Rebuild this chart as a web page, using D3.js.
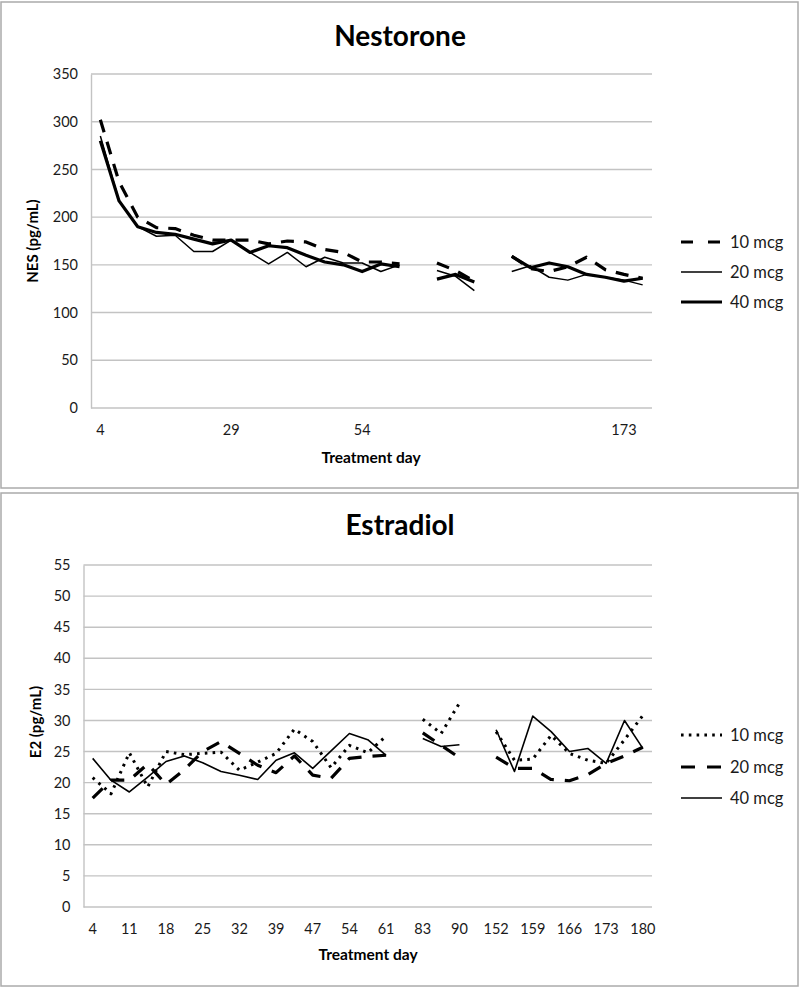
<!DOCTYPE html>
<html>
<head>
<meta charset="utf-8">
<script src="https://cdn.jsdelivr.net/npm/d3@7"></script>
<style>
  html, body { margin: 0; padding: 0; background: #fff; }
  svg { display: block; font-family: Lato, "Open Sans", sans-serif; }
</style>
</head>
<body>
<svg id="chart" width="800" height="988"></svg>
<script>
// ---------------- DATA ----------------
// Nestorone panel (blank categories create the breaks in the lines)
const nesDays = ["4","8","11","15","18","22","25","29","32","36","39","43","46","50","54","57","61","","83","86","90","","152","155","159","162","166","169","173","176"];
const nesTickLabels = ["4","29","54","173"];
const nesYTicks = [0,50,100,150,200,250,300,350];
const nes10 = [302,237,200,189,188,181,176,176,176,172,175,174,166,163,153,153,151,null,152,144,133,null,159,146,143,148,158,145,140,136];
const nes20 = [285,217,190,180,181,164,164,176,163,151,163,148,158,152,152,143,150,null,144,138,123,null,143,149,137,134,140,137,134,129];
const nes40 = [280,217,190,184,182,177,172,176,163,170,168,160,153,150,143,151,148,null,135,140,132,null,159,147,152,148,140,137,133,136];

// Estradiol panel
const e2Days = ["4","8","11","15","18","22","25","29","32","36","39","43","47","50","54","57","61","","83","86","90","","152","155","159","162","166","169","173","176","180"];
const e2TickLabels = ["4","11","18","25","32","39","47","54","61","83","90","152","159","166","173","180"];
const e2YTicks = [0,5,10,15,20,25,30,35,40,45,50,55];
const e2_10 = [20.8,18.2,24.8,19.3,25.0,24.5,24.7,24.9,22.0,23.3,24.7,28.6,26.6,22.4,26.0,24.8,27.5,null,30.2,27.9,32.8,null,28.2,23.6,23.8,27.6,24.7,23.6,23.1,26.9,30.8];
const e2_20 = [17.5,20.4,20.4,23.0,19.7,22.1,25.0,26.6,24.7,22.8,21.6,24.3,21.2,20.7,23.9,24.2,24.4,null,28.0,26.0,24.0,null,24.1,22.3,22.3,20.5,20.3,21.3,23.1,24.3,25.7];
const e2_40 = [23.9,20.4,18.5,20.9,23.4,24.3,23.2,21.8,21.2,20.5,23.6,24.8,22.3,25.1,27.9,26.9,24.4,null,27.1,25.8,26.1,null,28.5,21.8,30.7,28.2,25.0,25.5,23.1,30.0,25.5];

const nesSeries = ["10 mcg","20 mcg","40 mcg"];
const e2Series = ["10 mcg","20 mcg","40 mcg"];

// ---------------- DRAWING ----------------
const svg = d3.select("#chart");
const GRID = "#c3c3c3";
const TXT = "#1a1a1a";

function panel(cfg) {
  const g = svg.append("g");
  g.append("rect")
    .attr("x", cfg.frame[0]).attr("y", cfg.frame[1])
    .attr("width", cfg.frame[2]).attr("height", cfg.frame[3])
    .attr("fill", "#fff").attr("stroke", "#ababab").attr("stroke-width", 1.5);

  const x = d3.scaleBand().domain(d3.range(cfg.days.length)).range([cfg.left, cfg.right]);
  const y = d3.scaleLinear().domain([0, cfg.yMax]).range([cfg.bottom, cfg.top]);
  const cx = i => x(i) + x.bandwidth() / 2;

  g.append("g").selectAll("line").data(cfg.yTicks).join("line")
    .attr("x1", cfg.left).attr("x2", cfg.right)
    .attr("y1", d => y(d)).attr("y2", d => y(d))
    .attr("stroke", GRID).attr("stroke-width", 1.4);

  const ya = g.append("g").attr("transform", `translate(${cfg.left},0)`)
    .call(d3.axisLeft(y).tickValues(cfg.yTicks).tickSize(0).tickPadding(cfg.yPad));
  ya.select(".domain").attr("stroke", GRID).attr("stroke-width", 1.4);
  ya.selectAll("text").attr("font-size", 14.5).attr("fill", TXT).attr("font-family", "Lato");

  const tickIdx = d3.range(cfg.days.length).filter(i => cfg.days[i] !== "" && cfg.tickLabels.includes(cfg.days[i]) && cfg.tickFilter(i));
  const xa = g.append("g").attr("transform", `translate(0,${cfg.bottom})`)
    .call(d3.axisBottom(x).tickValues(tickIdx).tickFormat(i => cfg.days[i]).tickSize(0).tickPadding(cfg.xPad));
  xa.select(".domain").remove();
  xa.selectAll("text").attr("font-size", 14.5).attr("fill", TXT).attr("font-family", "Lato");

  g.append("text").attr("x", cfg.titleX).attr("y", cfg.titleY).attr("text-anchor", "middle")
    .attr("font-size", 28).attr("font-weight", "bold").attr("fill", "#000").text(cfg.title);
  g.append("text").attr("x", cfg.xTitleX).attr("y", cfg.xTitleY).attr("text-anchor", "middle")
    .attr("font-size", 15.5).attr("font-weight", "bold").attr("fill", "#000").text("Treatment day");
  g.append("text").attr("transform", `translate(${cfg.yTitleX},${cfg.yTitleY}) rotate(-90)`)
    .attr("text-anchor", "middle").attr("font-size", 15).attr("font-weight", "bold").attr("fill", "#000")
    .text(cfg.yTitle);

  const line = d3.line().defined(d => d.v != null).x(d => cx(d.i)).y(d => y(d.v));
  cfg.series.forEach((s, k) => {
    const pts = s.values.map((v, i) => ({ i, v }));
    g.append("path").datum(pts).attr("d", line)
      .attr("fill", "none").attr("stroke", "#000")
      .attr("stroke-width", s.style.w)
      .attr("stroke-dasharray", s.style.dash || null)
      .attr("stroke-linecap", "butt")
      .attr("stroke-linejoin", "round");
    const ly = cfg.legendY[k];
    g.append("line").attr("x1", 681).attr("x2", 722).attr("y1", ly).attr("y2", ly)
      .attr("stroke", "#000").attr("stroke-width", s.style.w)
      .attr("stroke-dasharray", s.style.legendDash || s.style.dash || null);
    g.append("text").attr("x", 730).attr("y", ly).attr("dy", "0.35em")
      .attr("font-size", 16.5).attr("fill", TXT).text(s.name);
  });
}

panel({
  frame: [1, 2, 797, 486],
  days: nesDays, tickLabels: nesTickLabels, tickFilter: i => i % 7 === 0,
  yTicks: nesYTicks, yMax: 350,
  left: 91, right: 652, top: 74, bottom: 408, yPad: 13, xPad: 17,
  title: "Nestorone", titleX: 400, titleY: 46,
  xTitleX: 371, xTitleY: 463, yTitle: "NES (pg/mL)", yTitleX: 38, yTitleY: 241,
  legendY: [242, 272, 302],
  series: [
    { name: nesSeries[0], values: nes10, style: { w: 3.2, dash: "13,10", legendDash: "12,15" } },
    { name: nesSeries[1], values: nes20, style: { w: 1.5 } },
    { name: nesSeries[2], values: nes40, style: { w: 3.2 } }
  ]
});

panel({
  frame: [1, 493, 797, 493],
  days: e2Days, tickLabels: e2TickLabels, tickFilter: i => i % 2 === 0,
  yTicks: e2YTicks, yMax: 55,
  left: 83.5, right: 652, top: 565, bottom: 907, yPad: 13, xPad: 17,
  title: "Estradiol", titleX: 400, titleY: 535,
  xTitleX: 368, xTitleY: 960, yTitle: "E2 (pg/mL)", yTitleX: 41, yTitleY: 722,
  legendY: [735, 767, 798],
  series: [
    { name: e2Series[0], values: e2_10, style: { w: 3, dash: "2.6,5.2" } },
    { name: e2Series[1], values: e2_20, style: { w: 3.2, dash: "14,11", legendDash: "14,12" } },
    { name: e2Series[2], values: e2_40, style: { w: 1.6 } }
  ]
});
</script>
</body>
</html>
